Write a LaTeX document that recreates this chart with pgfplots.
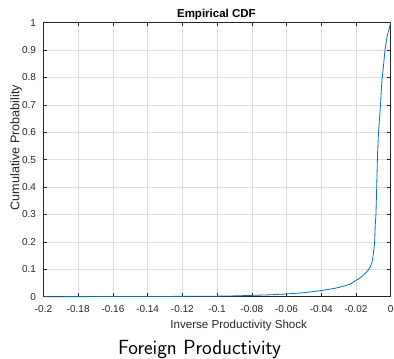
\documentclass[border=0pt]{standalone}
\usepackage{fontspec}
\setmainfont{Liberation Sans}
\usepackage{pgfplots}
\pgfplotsset{compat=1.18}

\definecolor{mlblue}{rgb}{0,0.447,0.741}
\definecolor{axgray}{rgb}{0.15,0.15,0.15}
\definecolor{gridgray}{rgb}{0.87,0.87,0.87}

\begin{document}
\begin{tikzpicture}[x=1pt,y=1pt]
\useasboundingbox (0,0) rectangle (394,359);
\begin{axis}[
  at={(43.5pt,62.3pt)}, anchor=south west,
  scale only axis, width=347.2pt, height=274pt,
  xmin=-0.2, xmax=0, ymin=0, ymax=1,
  xtick={-0.2,-0.18,-0.16,-0.14,-0.12,-0.1,-0.08,-0.06,-0.04,-0.02,0},
  xticklabels={-0.2,-0.18,-0.16,-0.14,-0.12,-0.1,-0.08,-0.06,-0.04,-0.02,0},
  ytick={0,0.1,0.2,0.3,0.4,0.5,0.6,0.7,0.8,0.9,1},
  yticklabels={0,0.1,0.2,0.3,0.4,0.5,0.6,0.7,0.8,0.9,1},
  tick align=inside,
  major tick length=3.5pt,
  tick style={color=axgray, line width=0.5pt},
  axis line style={color=axgray, line width=0.6pt},
  grid=major,
  major grid style={color=gridgray, line width=0.5pt},
  ticklabel style={font=\fontsize{10}{12}\selectfont, text=axgray},
  xticklabel style={yshift=-5pt},
  yticklabel style={xshift=-4pt},
  clip=false,
]
\addplot[mlblue, line width=0.8pt] coordinates {
  (-0.200,0.0000) (-0.180,0.0003) (-0.160,0.0005) (-0.140,0.0008)
  (-0.120,0.0012) (-0.100,0.0020) (-0.090,0.0030) (-0.080,0.0048)
  (-0.070,0.0068) (-0.060,0.0100) (-0.050,0.0145) (-0.040,0.0225)
  (-0.035,0.0275) (-0.030,0.0335) (-0.0265,0.0395) (-0.0233,0.0460)
  (-0.0204,0.0580) (-0.0175,0.0690) (-0.0147,0.0850) (-0.0130,0.0970)
  (-0.0118,0.1090) (-0.0110,0.1220) (-0.0105,0.1340) (-0.0099,0.1600)
  (-0.0093,0.1950) (-0.0089,0.2600) (-0.0085,0.3000) (-0.0080,0.4140)
  (-0.0076,0.5170) (-0.0070,0.6020) (-0.0060,0.6880) (-0.0051,0.7850)
  (-0.0041,0.8460) (-0.0032,0.9060) (-0.0019,0.9550) (-0.0009,0.9780)
  (0.0000,1.0000)
};
\end{axis}
% title and axis labels
\node[anchor=base, text=black, font=\fontsize{11.5}{13}\selectfont\bfseries] at (216.4,341.7) {Empirical CDF};
\node[anchor=base, text=axgray, font=\fontsize{11.6}{13}\selectfont] at (238.7,30.7) {Inverse Productivity Shock};
\node[anchor=base, rotate=90, text=axgray, font=\fontsize{12.6}{14}\selectfont] at (19.3,211.5) {Cumulative Probability};
% caption below the plot
\node[anchor=base, text=black, font=\sffamily\fontsize{20.5}{24}\selectfont] at (199.5,4.4) {Foreign Productivity};
\end{tikzpicture}
\end{document}
